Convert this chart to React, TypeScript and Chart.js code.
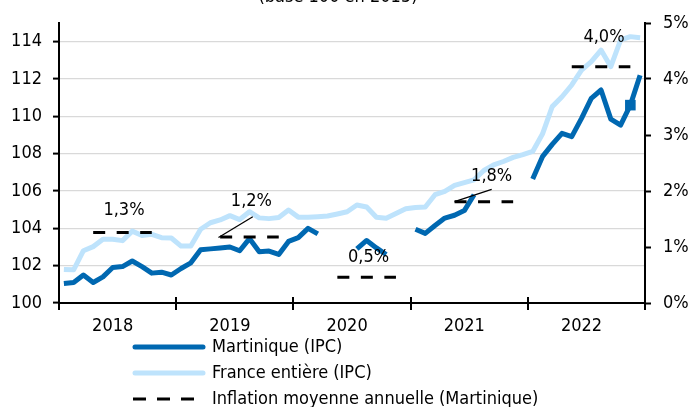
import React, { useEffect, useRef } from 'react';
import { Chart, registerables } from 'chart.js';

Chart.register(...registerables);

const FONT = '"DejaVu Sans Condensed", "DejaVu Sans", sans-serif';
const FONT_SIZE = 18;

const title = '(base 100 en 2015)';
const years = ['2018', '2019', '2020', '2021', '2022'];
const leftTicks = [100, 102, 104, 106, 108, 110, 112, 114];
const rightTicks = [0, 1, 2, 3, 4, 5];

// monthly index values, Jan 2018 .. Dec 2022
const martinique: (number | null)[] = [
  101.05, 101.1, 101.5, 101.1, 101.4, 101.9, 101.95, 102.25, 101.95, 101.6, 101.65, 101.5,
  101.85, 102.15, 102.85, 102.9, 102.95, 103.0, 102.8, 103.45, 102.75, 102.78, 102.6, 103.3,
  103.5, 104.0, 103.7, null, null, null, 102.9, 103.35, 102.95, 102.6, null, null,
  103.95, 103.73, 104.15, 104.55, 104.7, 104.95, 105.8, null, null, null, null, null,
  106.64, 107.84, 108.5, 109.09, 108.91, 109.89, 110.96, 111.41, 109.85, 109.53, 110.6, 112.2,
];
const france: number[] = [
  101.8, 101.78, 102.8, 103.02, 103.41, 103.42, 103.34, 103.85, 103.62, 103.68, 103.5, 103.48,
  103.05, 103.05, 103.95, 104.3, 104.45, 104.68, 104.47, 104.89, 104.56, 104.52, 104.58, 104.98,
  104.6, 104.59, 104.62, 104.66, 104.77, 104.89, 105.25, 105.14, 104.59, 104.54, 104.8, 105.05,
  105.12, 105.14, 105.8, 105.98, 106.3, 106.45, 106.6, 107.1, 107.4, 107.58, 107.8, 107.95,
  108.12, 109.05, 110.52, 111.05, 111.68, 112.48, 112.93, 113.55, 112.66, 114.09, 114.27, 114.21,
];
const martiniqueMarkerMonth = 58;

// annual average inflation (right axis, %)
const inflationAvg = [1.26, 1.18, 0.46, 1.81, 4.22];
const inflationFrom = [3, 16, 28, 40, 52];
const inflationTo = [9, 22, 34, 46, 58];
const inflationText = ['1,3%', '1,2%', '0,5%', '1,8%', '4,0%'];
const textMonth = [6.65, 19.7, 31.7, 44.3, 55.8];
const textPct = [1.66, 1.81, 0.82, 2.27, 4.75];
const leaderFrom: ([number, number] | null)[] = [null, [19.84, 1.54], null, [44.3, 2.03], null];
const leaderTo: ([number, number] | null)[] = [null, [16.33, 1.17], null, [40.5, 1.81], null];

const legendLabels = ['Martinique (IPC)', 'France entière (IPC)', 'Inflation moyenne annuelle (Martinique)'];

const DARK = '#0068B1';
const LIGHT = '#BEE3FC';
const GRID = '#D9D9D9';

export default function App() {
  const ref = useRef<HTMLCanvasElement | null>(null);

  useEffect(() => {
    if (!ref.current) return;
    const monthX = (i: number) => i + 0.5;
    const dark = martinique.map((v, i) => ({ x: monthX(i), y: v }));
    const light = france.map((v, i) => ({ x: monthX(i), y: v }));
    const dashVals: (number | null)[] = new Array(60).fill(null);
    inflationAvg.forEach((v, k) => {
      for (let i = inflationFrom[k]; i <= inflationTo[k]; i++) dashVals[i] = v;
    });
    const dashed = dashVals.map((v, i) => ({ x: monthX(i), y: v }));

    const overlay = {
      id: 'overlay',
      afterDraw(chart: any) {
        const ctx = chart.ctx as CanvasRenderingContext2D;
        const xs = chart.scales.x;
        const y2 = chart.scales.y2;
        const area = chart.chartArea;
        ctx.save();
        // x-axis crossing tick marks
        ctx.strokeStyle = '#000';
        ctx.lineWidth = 2;
        for (let v = 0; v <= 60; v += 12) {
          const px = Math.round(xs.getPixelForValue(v));
          ctx.beginPath();
          ctx.moveTo(px, area.bottom - 6);
          ctx.lineTo(px, area.bottom + 7);
          ctx.stroke();
        }
        // annotations
        ctx.fillStyle = '#000';
        ctx.font = `${FONT_SIZE}px ${FONT}`;
        ctx.textAlign = 'center';
        ctx.textBaseline = 'middle';
        inflationText.forEach((t, k) => {
          ctx.fillText(t, xs.getPixelForValue(textMonth[k]), y2.getPixelForValue(textPct[k]));
          const a = leaderFrom[k];
          const b = leaderTo[k];
          if (a && b) {
            ctx.lineWidth = 1.3;
            ctx.beginPath();
            ctx.moveTo(xs.getPixelForValue(a[0]), y2.getPixelForValue(a[1]));
            ctx.lineTo(xs.getPixelForValue(b[0]), y2.getPixelForValue(b[1]));
            ctx.stroke();
          }
        });
        // title (partly cut off at the top)
        ctx.textBaseline = 'alphabetic';
        ctx.fillText(title, 338, 2);
        // legend
        const lx0 = 133;
        const lx1 = 205;
        const rows = [347, 373, 399];
        ctx.textAlign = 'left';
        ctx.textBaseline = 'middle';
        rows.forEach((ry, k) => {
          ctx.save();
          if (k < 2) {
            ctx.strokeStyle = k === 0 ? DARK : LIGHT;
            ctx.lineWidth = 5;
            ctx.lineCap = 'round';
            ctx.beginPath();
            ctx.moveTo(lx0 + 2, ry);
            ctx.lineTo(lx1 - 2, ry);
            ctx.stroke();
          } else {
            ctx.strokeStyle = '#000';
            ctx.lineWidth = 3;
            ctx.setLineDash([13, 11]);
            ctx.beginPath();
            ctx.moveTo(lx0, ry);
            ctx.lineTo(lx0 + 62, ry);
            ctx.stroke();
          }
          ctx.restore();
          ctx.fillStyle = '#000';
          ctx.fillText(legendLabels[k], 212, ry);
        });
        ctx.restore();
      },
    };

    const chart = new Chart(ref.current, {
      type: 'line',
      data: {
        datasets: [
          {
            label: 'Inflation moyenne annuelle (Martinique)',
            data: dashed as any,
            yAxisID: 'y2',
            borderColor: '#000',
            borderWidth: 3,
            borderDash: [12, 11.5],
            pointRadius: 0,
            spanGaps: false,
            tension: 0,
          },
          {
            label: 'Martinique (IPC)',
            data: dark as any,
            yAxisID: 'y',
            borderColor: DARK,
            backgroundColor: DARK,
            borderWidth: 5,
            borderJoinStyle: 'round',
            pointRadius: (c: any) => (c.dataIndex === martiniqueMarkerMonth ? 7.5 : 0),
            pointStyle: 'rect',
            pointBorderWidth: 0,
            pointHoverRadius: 0,
            spanGaps: false,
            tension: 0,
          },
          {
            label: 'France entière (IPC)',
            data: light as any,
            yAxisID: 'y',
            borderColor: LIGHT,
            borderWidth: 5,
            borderJoinStyle: 'round',
            pointRadius: 0,
            tension: 0,
          },
        ],
      },
      options: {
        animation: false,
        responsive: false,
        events: [],
        layout: { padding: { top: 23, left: 0, right: 0, bottom: 0 } },
        plugins: { legend: { display: false }, tooltip: { enabled: false }, title: { display: false } },
        scales: {
          x: {
            type: 'linear',
            min: 0,
            max: 60,
            afterBuildTicks: (s: any) => {
              s.ticks = years.map((_, k) => ({ value: k * 12 + 5.5 }));
            },
            afterFit: (s: any) => {
              s.height = 104;
            },
            ticks: {
              autoSkip: false,
              maxRotation: 0,
              color: '#000',
              font: { family: FONT, size: FONT_SIZE },
              padding: 13,
              callback: (v: any) => years[Math.floor(Number(v) / 12)],
            },
            grid: { display: false, drawTicks: false },
            border: { display: true, color: '#000', width: 2 },
          },
          y: {
            type: 'linear',
            position: 'left',
            min: 100,
            max: 115,
            afterBuildTicks: (s: any) => {
              s.ticks = leftTicks.map((v) => ({ value: v }));
            },
            afterFit: (s: any) => {
              s.width = 59;
            },
            ticks: {
              color: '#000',
              font: { family: FONT, size: FONT_SIZE },
              padding: 11,
              callback: (v: any) => String(v),
            },
            grid: {
              color: (c: any) => (c.tick && c.tick.value === 100 ? 'rgba(0,0,0,0)' : GRID),
              lineWidth: 1.2,
              tickLength: 6,
              tickColor: '#000',
              tickWidth: 2,
            },
            border: { display: true, color: '#000', width: 2 },
          },
          y2: {
            type: 'linear',
            position: 'right',
            min: 0,
            max: 5,
            afterBuildTicks: (s: any) => {
              s.ticks = rightTicks.map((v) => ({ value: v }));
            },
            afterFit: (s: any) => {
              s.width = 49;
            },
            ticks: {
              color: '#000',
              font: { family: FONT, size: FONT_SIZE },
              padding: 12,
              callback: (v: any) => `${v}%`,
            },
            grid: {
              drawOnChartArea: false,
              tickLength: 6,
              tickColor: '#000',
              tickWidth: 2,
            },
            border: { display: true, color: '#000', width: 2 },
          },
        },
      },
      plugins: [overlay],
    } as any);
    return () => chart.destroy();
  }, []);

  return (
    <div style={{ position: 'absolute', left: 0, top: 0, width: 694, height: 407, overflow: 'hidden', background: '#fff' }}>
      <canvas ref={ref} width={694} height={407} style={{ display: 'block' }} />
    </div>
  );
}
